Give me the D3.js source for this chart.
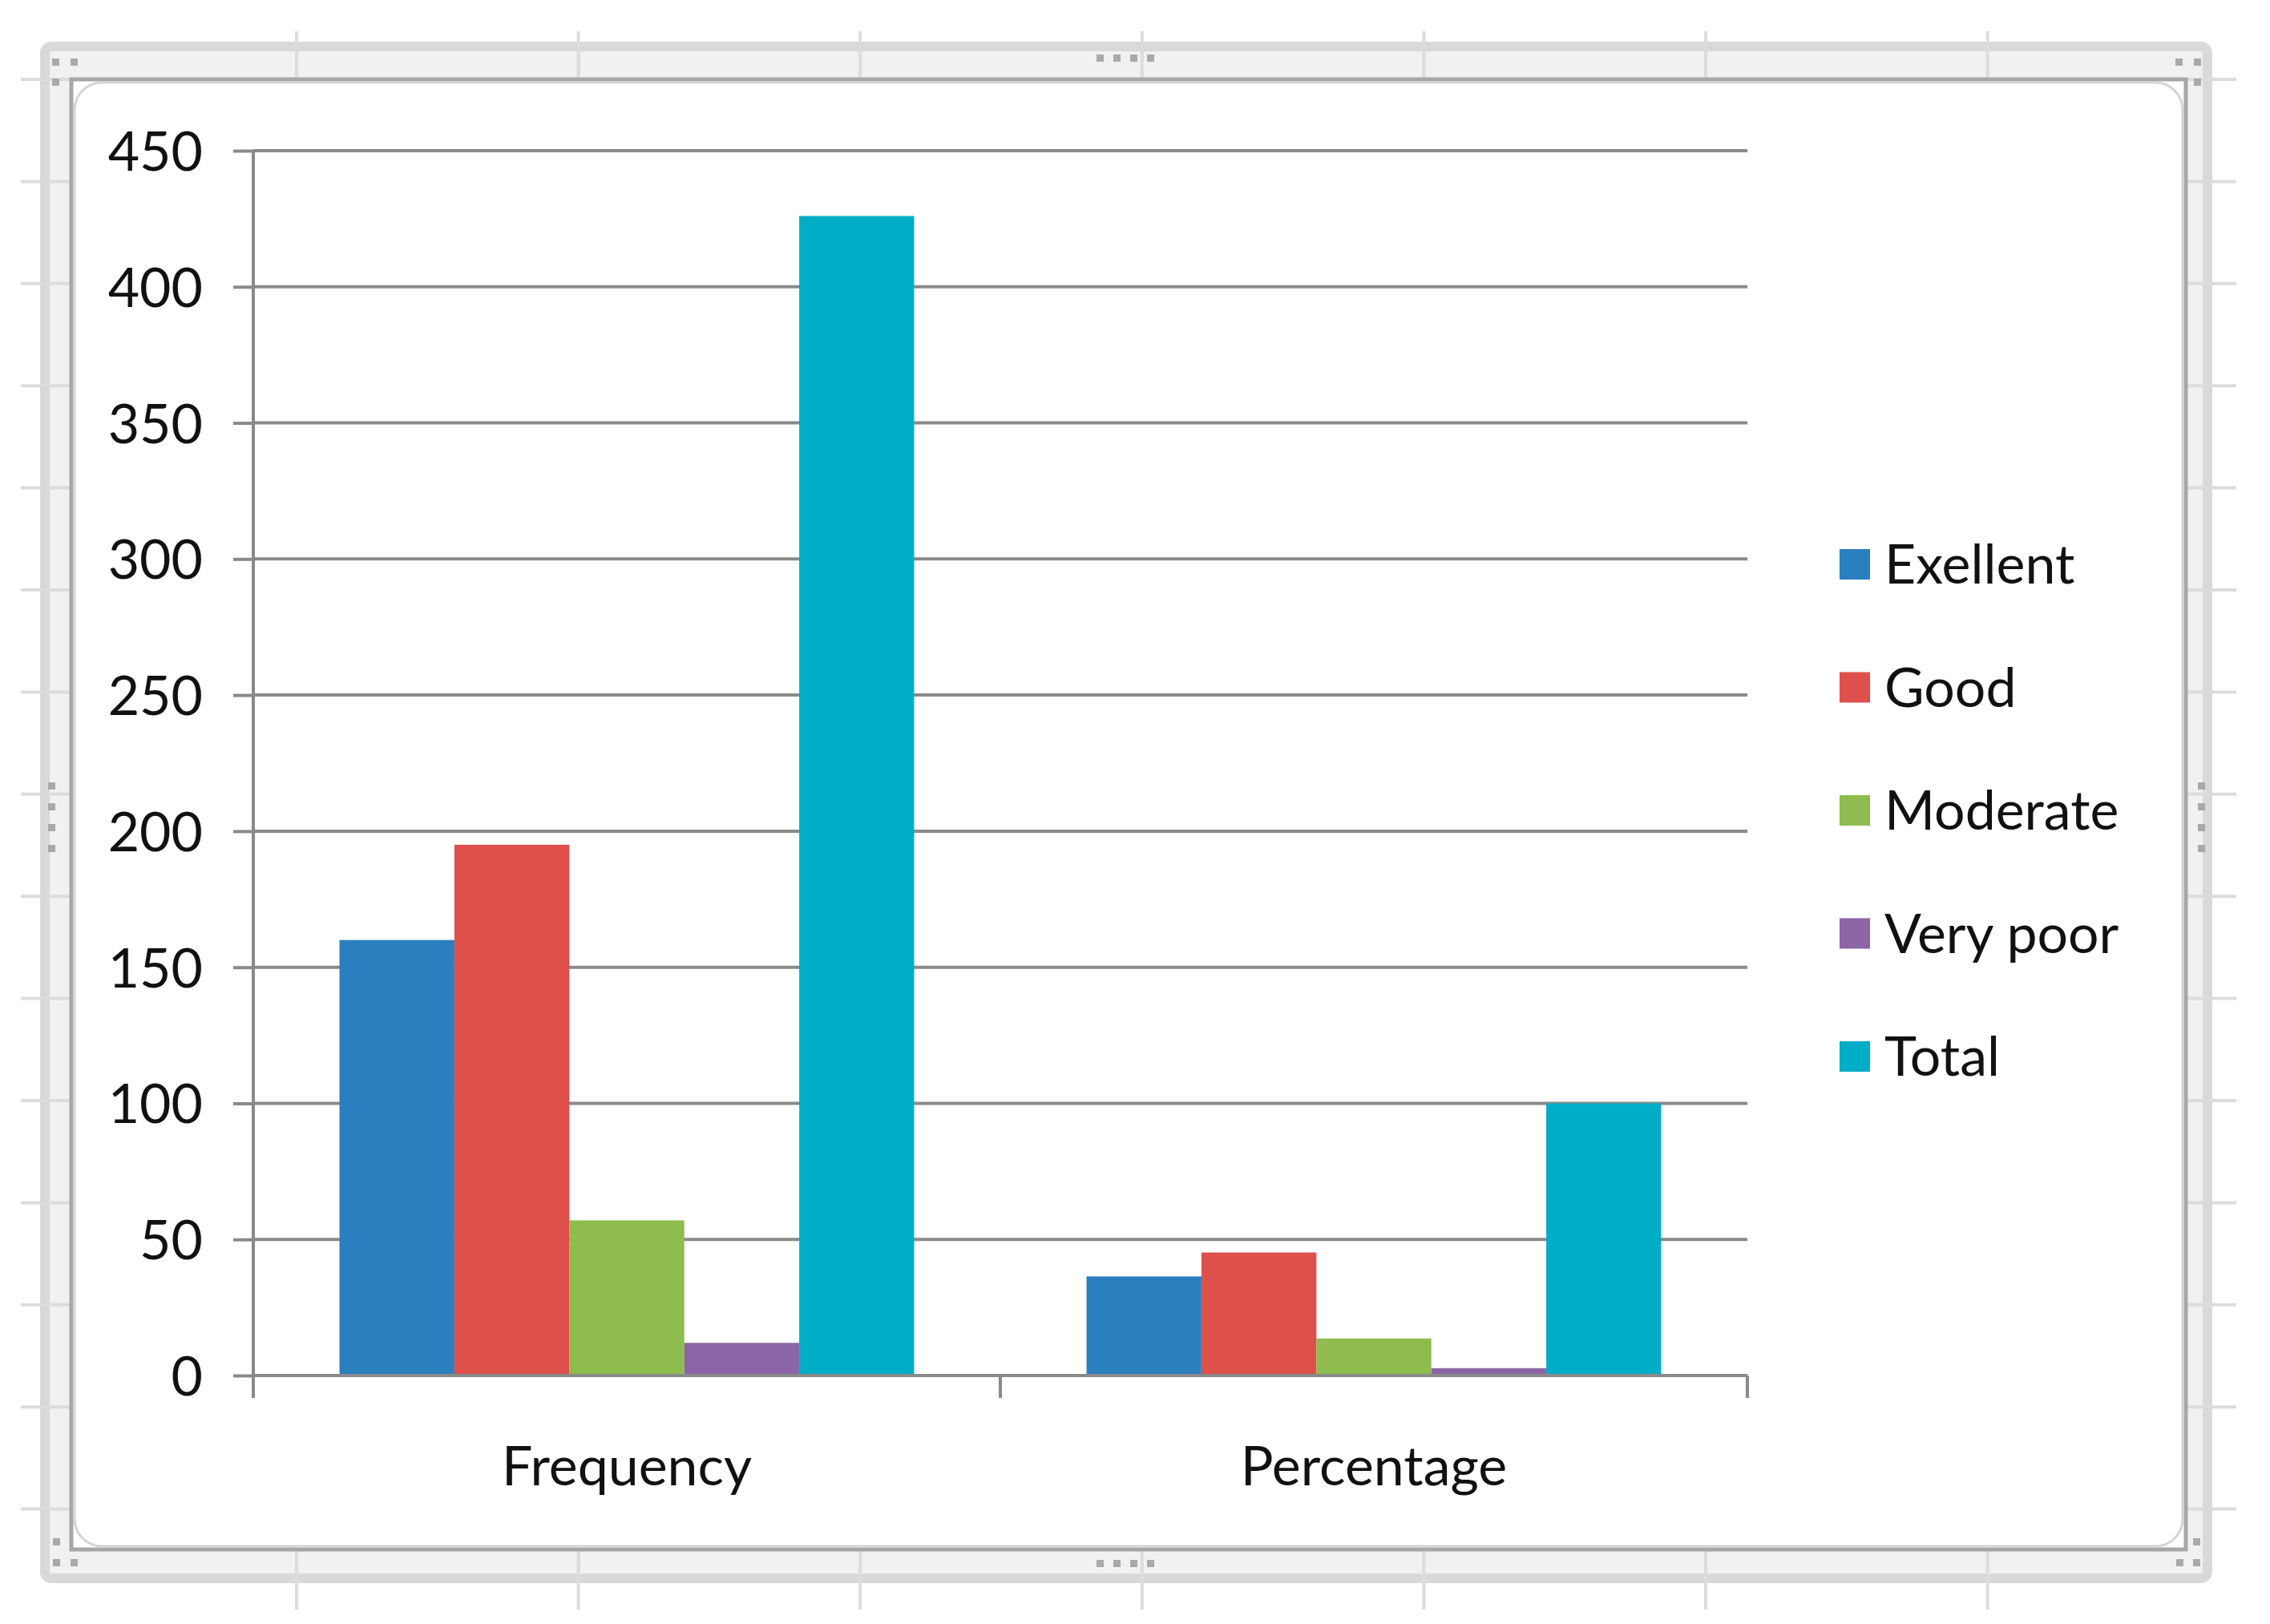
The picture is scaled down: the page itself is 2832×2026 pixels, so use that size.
<!DOCTYPE html>
<html><head><meta charset="utf-8">
<script src="https://cdn.jsdelivr.net/npm/d3@7"></script>
<style>html,body{margin:0;padding:0;background:#fff;} svg{display:block;}</style>
</head><body>
<svg id="chart" width="2832" height="2026"></svg>
<script>
// ---- data ----
const categories = ["Frequency", "Percentage"];
const seriesNames = ["Exellent", "Good", "Moderate", "Very poor", "Total"];
const frequencyValues = [160, 195, 57, 12, 426];
const percentageValues = [36.4, 45.2, 13.6, 2.7, 100];
const yTickValues = [0, 50, 100, 150, 200, 250, 300, 350, 400, 450];
const seriesColors = ["#2a7fbf", "#dd504c", "#8ebc4f", "#8b65a6", "#00adc6"];

const valuesByCategory = { "Frequency": frequencyValues, "Percentage": percentageValues };

const W = 2832, H = 2026;
const svg = d3.select("#chart");
const FONT = "Lato, 'Noto Sans', sans-serif";

// ---- spreadsheet-like background frame ----
const bg = svg.append("g");
bg.append("rect").attr("x", 56).attr("y", 58).attr("width", 2698).attr("height", 1911)
  .attr("rx", 8).attr("fill", "#f1f1f1").attr("stroke", "#d9d9d9").attr("stroke-width", 12);

const sheetCols = d3.range(0, 7).map(i => 370 + i * 351.6);
const sheetRows = d3.range(0, 15).map(i => 99 + i * 127.4);
bg.selectAll("line.vc").data(sheetCols).join("line")
  .attr("x1", d => d).attr("x2", d => d).attr("y1", 39).attr("y2", 2008)
  .attr("stroke", "#dcdcdc").attr("stroke-width", 4);
bg.selectAll("line.hr").data(sheetRows).join("line")
  .attr("x1", 26).attr("x2", 2790).attr("y1", d => d).attr("y2", d => d)
  .attr("stroke", "#dcdcdc").attr("stroke-width", 4);

// chart area
bg.append("rect").attr("x", 89).attr("y", 99).attr("width", 2638).attr("height", 1834)
  .attr("fill", "#fff").attr("stroke", "#a7a7a7").attr("stroke-width", 5);
bg.append("rect").attr("x", 93).attr("y", 103).attr("width", 2630).attr("height", 1826)
  .attr("rx", 34).attr("fill", "#fff").attr("stroke", "#d4d4d4").attr("stroke-width", 3);

// handles
const handleDots = [
  [65,73],[88,73],[65,98],
  [2714,73],[2737,73],[2737,98],
  [66,1919],[66,1945],[88,1945],
  [2736,1919],[2715,1945],[2736,1945],
  [1368,68],[1389,68],[1410,68],[1431,68],
  [1368,1946],[1389,1946],[1410,1946],[1431,1946],
  [60,976],[60,1002],[60,1028],[60,1054],
  [2742,976],[2742,1002],[2742,1028],[2742,1054]
];
bg.selectAll("rect.h").data(handleDots).join("rect")
  .attr("x", d => d[0]).attr("y", d => d[1]).attr("width", 9).attr("height", 9)
  .attr("fill", "#a9a9a9");

// ---- scales ----
const plotLeft = 316, plotRight = 2180, plotTop = 188, plotBottom = 1716;
const x0 = d3.scaleBand().domain(categories).range([plotLeft, plotRight]).paddingInner(0).paddingOuter(0);
const x1 = d3.scaleBand().domain(seriesNames).range([0, x0.bandwidth()]).paddingInner(0).paddingOuter(0.75);
const y = d3.scaleLinear().domain([0, 450]).range([plotBottom, plotTop]);
const color = d3.scaleOrdinal().domain(seriesNames).range(seriesColors);

const g = svg.append("g");

// gridlines
g.selectAll("line.grid").data(yTickValues).join("line")
  .attr("x1", plotLeft).attr("x2", plotRight)
  .attr("y1", d => y(d)).attr("y2", d => y(d))
  .attr("stroke", "#8a8a8a").attr("stroke-width", 4);

// y axis
const yAxis = d3.axisLeft(y).tickValues(yTickValues).tickSize(25).tickPadding(38).tickFormat(d3.format("d"));
const yg = g.append("g").attr("transform", `translate(${plotLeft},0)`).call(yAxis);
yg.select(".domain").remove();
yg.selectAll(".tick line").attr("stroke", "#8a8a8a").attr("stroke-width", 4);
yg.selectAll(".tick text").attr("font-family", FONT).attr("font-size", 68).attr("fill", "#111").attr("dy", "0.36em");
g.append("line").attr("x1", plotLeft).attr("x2", plotLeft).attr("y1", plotTop).attr("y2", plotBottom + 28)
  .attr("stroke", "#8a8a8a").attr("stroke-width", 4);

// bars
const groups = g.selectAll("g.cat").data(categories).join("g")
  .attr("transform", d => `translate(${x0(d)},0)`);
groups.selectAll("rect").data(c => seriesNames.map((s, i) => ({ s, v: valuesByCategory[c][i] }))).join("rect")
  .attr("x", d => x1(d.s)).attr("width", x1.bandwidth())
  .attr("y", d => y(d.v)).attr("height", d => y(0) - y(d.v))
  .attr("fill", d => color(d.s));

// x axis
g.append("line").attr("x1", plotLeft).attr("x2", plotRight).attr("y1", y(0)).attr("y2", y(0))
  .attr("stroke", "#8a8a8a").attr("stroke-width", 4);
const boundaries = categories.map(c => x0(c)).concat([x0(categories[categories.length - 1]) + x0.bandwidth()]);
g.selectAll("line.xt").data(boundaries).join("line")
  .attr("x1", d => d).attr("x2", d => d).attr("y1", y(0)).attr("y2", y(0) + 28)
  .attr("stroke", "#8a8a8a").attr("stroke-width", 4);
g.selectAll("text.xl").data(categories).join("text")
  .attr("x", d => x0(d) + x0.bandwidth() / 2).attr("y", 1853)
  .attr("text-anchor", "middle").attr("font-family", FONT).attr("font-size", 68).attr("fill", "#111")
  .text(d => d);

// legend
const legend = g.append("g");
const legItems = legend.selectAll("g").data(seriesNames).join("g")
  .attr("transform", (d, i) => `translate(2295,${704 + i * 153.5})`);
legItems.append("rect").attr("x", 0).attr("y", -19).attr("width", 38).attr("height", 38)
  .attr("fill", d => color(d));
legItems.append("text").attr("x", 56).attr("y", 0).attr("dy", "0.36em")
  .attr("font-family", FONT).attr("font-size", 68).attr("fill", "#111").text(d => d);
</script>
</body></html>
